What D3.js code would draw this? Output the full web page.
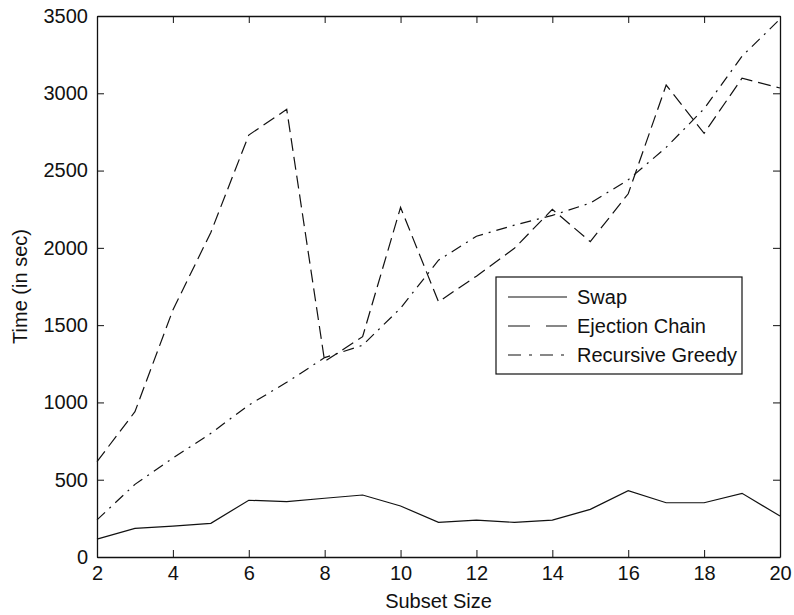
<!DOCTYPE html>
<html>
<head>
<meta charset="utf-8">
<script src="https://cdn.jsdelivr.net/npm/d3@7"></script>
<style>
  body { margin: 0; background: #fff; }
  svg text { font-family: "Liberation Sans", Arial, sans-serif; fill: #111; }
  .axis path, .axis line { stroke: #111; }
</style>
</head>
<body>
<script>
// values
var subsetSize = [2, 3, 4, 5, 6, 7, 8, 9, 10, 11, 12, 13, 14, 15, 16, 17, 18, 19, 20];
var swap      = [116, 185, 200, 218, 367, 358, 380, 401, 330, 224, 239, 224, 239, 308, 429, 351, 351, 412, 265];
var ejection  = [617, 940, 1598, 2100, 2730, 2896, 1265, 1425, 2262, 1651, 1817, 1997, 2249, 2040, 2350, 3053, 2741, 3098, 3034];
var greedy    = [240, 470, 640, 800, 983, 1130, 1290, 1370, 1610, 1920, 2075, 2147, 2210, 2290, 2440, 2650, 2900, 3240, 3480];
var xTicks = [2, 4, 6, 8, 10, 12, 14, 16, 18, 20];
var yTicks = [0, 500, 1000, 1500, 2000, 2500, 3000, 3500];

var seriesNames = ["Swap", "Ejection Chain", "Recursive Greedy"];
var seriesDash  = [null, "13,6", "11,6,2,6"];
var seriesData  = [swap, ejection, greedy];

var W = 794, H = 615;
var margin = {left: 97, top: 16, right: 14, bottom: 58};
var w = W - margin.left - margin.right,
    h = H - margin.top - margin.bottom;

var svg = d3.select("body").append("svg")
    .attr("width", W)
    .attr("height", H);

var g = svg.append("g")
    .attr("transform", "translate(" + margin.left + "," + margin.top + ")");

var x = d3.scaleLinear().domain([2, 20]).range([0, w]);
var y = d3.scaleLinear().domain([0, 3500]).range([h, 0]);

// axes, ticks inward like matlab
g.append("g").attr("class", "axis")
    .attr("transform", "translate(0," + h + ")")
    .call(d3.axisBottom(x).tickValues(xTicks).tickFormat(d3.format("d")).tickSizeInner(-7).tickSizeOuter(0).tickPadding(9))
    .selectAll("text").style("font-size", "20px");

g.append("g").attr("class", "axis")
    .call(d3.axisLeft(y).tickValues(yTicks).tickFormat(d3.format("d")).tickSizeInner(-7).tickSizeOuter(0).tickPadding(9))
    .selectAll("text").style("font-size", "20px");

g.append("g").attr("class", "axis")
    .call(d3.axisTop(x).tickValues(xTicks).tickSizeInner(-7).tickSizeOuter(0).tickFormat(""));

g.append("g").attr("class", "axis")
    .attr("transform", "translate(" + w + ",0)")
    .call(d3.axisRight(y).tickValues(yTicks).tickSizeInner(-7).tickSizeOuter(0).tickFormat(""));

g.selectAll(".axis path").attr("stroke-width", 1.3);

var line = d3.line()
    .x(function(d, i) { return x(subsetSize[i]); })
    .y(function(d) { return y(d); });

g.selectAll(".series")
    .data(seriesData)
    .enter().append("path")
    .attr("class", "series")
    .attr("d", line)
    .attr("fill", "none")
    .attr("stroke", "#111")
    .attr("stroke-width", 1.2)
    .attr("stroke-dasharray", function(d, i) { return seriesDash[i]; });

// legend
var lg = g.append("g").attr("transform", "translate(" + (496 - margin.left) + "," + (277 - margin.top) + ")");
lg.append("rect")
    .attr("width", 246).attr("height", 97)
    .attr("fill", "#fff").attr("stroke", "#111").attr("stroke-width", 1.2);

var item = lg.selectAll(".item")
    .data(seriesNames)
    .enter().append("g")
    .attr("transform", function(d, i) { return "translate(0," + (20 + i * 29) + ")"; });

item.append("line")
    .attr("x1", 12).attr("x2", 71)
    .attr("stroke", "#111").attr("stroke-width", 1.2)
    .attr("stroke-dasharray", function(d, i) { return i == 1 ? "22,16" : (i == 2 ? "13,8,3,8" : null); });

item.append("text")
    .attr("x", 81).attr("dy", "0.36em")
    .style("font-size", "20px")
    .text(function(d) { return d; });

// axis labels
svg.append("text")
    .attr("x", margin.left + w / 2).attr("y", 608)
    .attr("text-anchor", "middle")
    .style("font-size", "20px")
    .text("Subset Size");

svg.append("text")
    .attr("transform", "translate(27," + (margin.top + h / 2) + ") rotate(-90)")
    .attr("text-anchor", "middle")
    .style("font-size", "20px")
    .text("Time (in sec)");
</script>
</body>
</html>
